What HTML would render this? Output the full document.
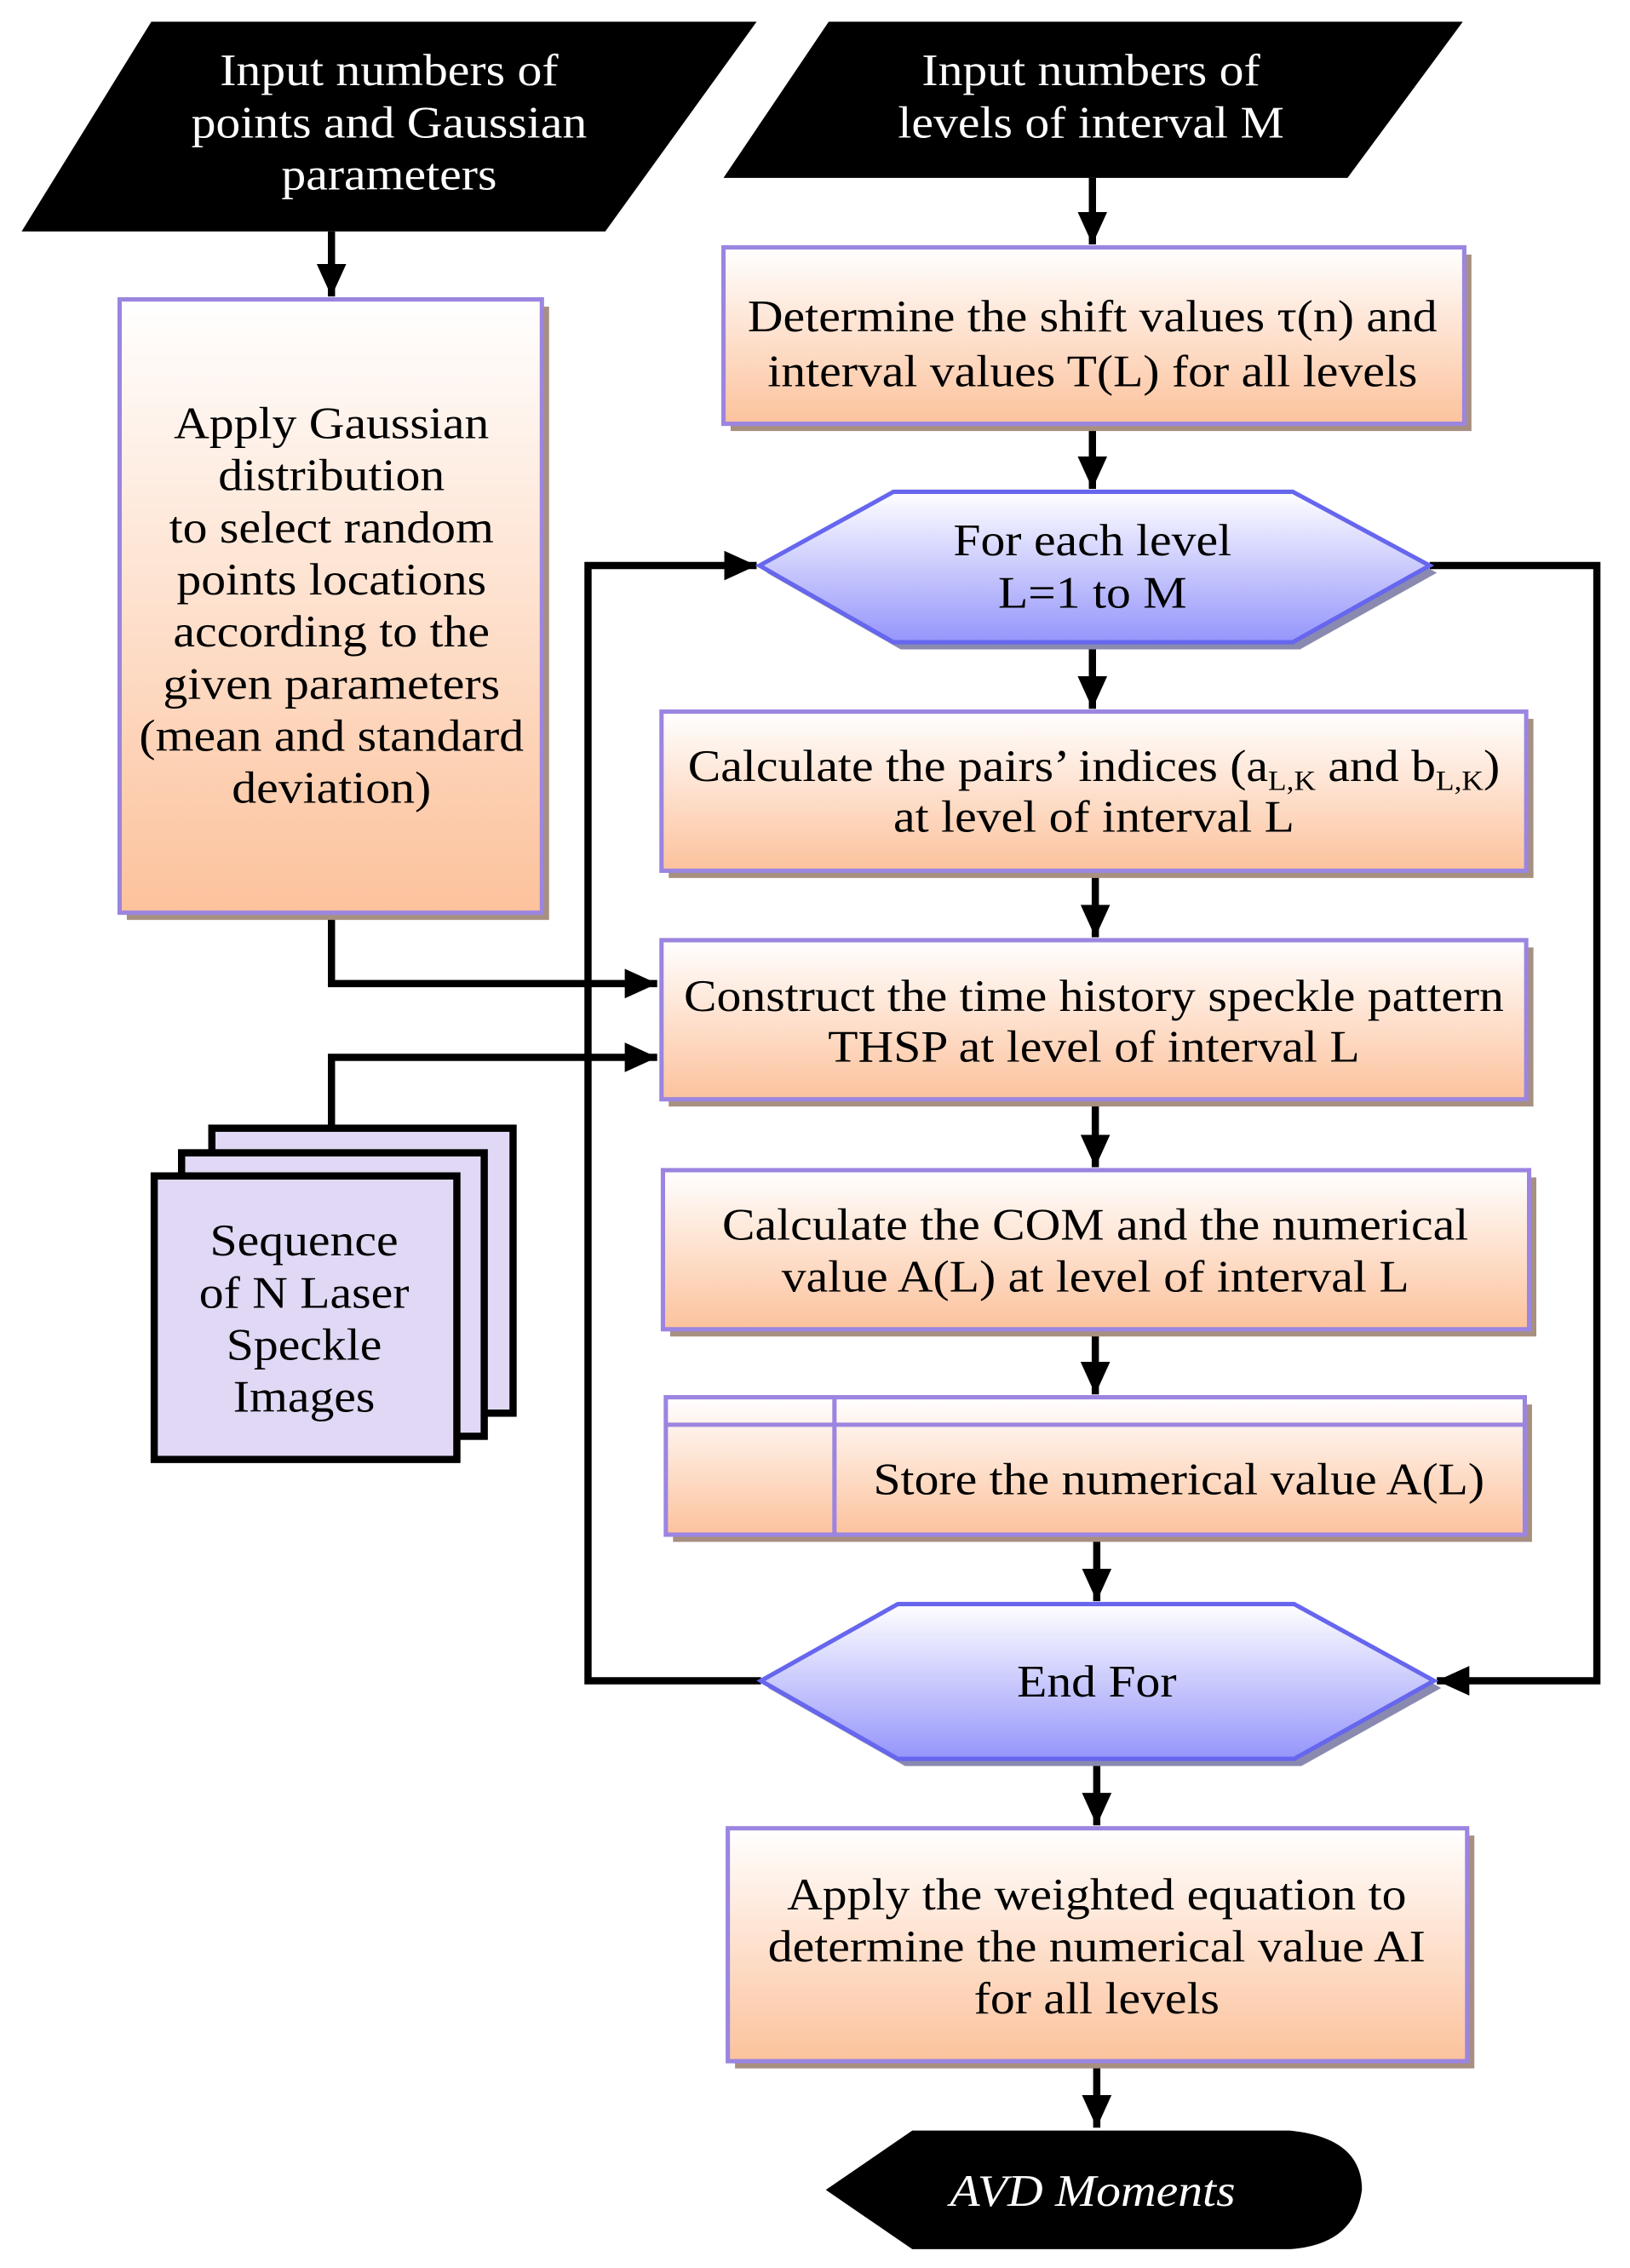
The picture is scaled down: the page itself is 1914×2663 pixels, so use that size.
<!DOCTYPE html>
<html><head><meta charset="utf-8"><style>html,body{margin:0;padding:0;background:#fff}svg{display:block}
svg text{transform-box:fill-box;transform-origin:center;transform:scaleX(1.1)}</style></head>
<body>
<svg width="1914" height="2663" viewBox="0 0 1131 1568" preserveAspectRatio="none" xmlns="http://www.w3.org/2000/svg" font-family="'Liberation Serif', serif">
<defs>
<linearGradient id="bx" x1="0" y1="0" x2="0" y2="1"><stop offset="0" stop-color="#ffffff"/><stop offset="1" stop-color="#fcc29c"/></linearGradient>
<linearGradient id="hx" x1="0" y1="0" x2="0" y2="1"><stop offset="0" stop-color="#ffffff"/><stop offset="1" stop-color="#9595fb"/></linearGradient>
<marker id="ar" markerWidth="4.5" markerHeight="4.5" refX="4.5" refY="2.25" orient="auto" markerUnits="strokeWidth"><path d="M0,0.2 L4.5,2.25 L0,4.3 z" fill="#000"/></marker>
</defs>
<g fill="none" stroke="#000" stroke-width="5">
<line x1="230" y1="160" x2="230" y2="205" marker-end="url(#ar)"/>
<line x1="758" y1="123" x2="758" y2="169" marker-end="url(#ar)"/>
<line x1="758" y1="295" x2="758" y2="338" marker-end="url(#ar)"/>
<line x1="758" y1="446" x2="758" y2="490" marker-end="url(#ar)"/>
<line x1="760" y1="604" x2="760" y2="648" marker-end="url(#ar)"/>
<line x1="760" y1="762" x2="760" y2="807" marker-end="url(#ar)"/>
<line x1="760" y1="921" x2="760" y2="964" marker-end="url(#ar)"/>
<line x1="761" y1="1063" x2="761" y2="1107" marker-end="url(#ar)"/>
<line x1="761" y1="1218" x2="761" y2="1262" marker-end="url(#ar)"/>
<line x1="761" y1="1427" x2="761" y2="1471" marker-end="url(#ar)"/>
<polyline points="992,391 1108,391 1108,1162 997,1162" marker-end="url(#ar)"/>
<polyline points="528,1162 408,1162 408,391 525,391" marker-end="url(#ar)"/>
<polyline points="230,633 230,680 456,680" marker-end="url(#ar)"/>
<polyline points="230,780 230,731 456,731" marker-end="url(#ar)"/>
</g>
<polygon points="15,160 105,15 525,15 420,160" fill="#000"/>
<polygon points="502,123 575,15 1015,15 935,123" fill="#000"/>
<g fill="#a89080">
<rect x="88" y="212" width="293" height="424"/>
<rect x="507" y="176" width="514" height="122"/>
<rect x="464" y="497" width="600" height="110"/>
<rect x="464" y="655" width="600" height="110"/>
<rect x="465" y="814" width="601" height="110"/>
<rect x="467" y="971" width="596" height="95"/>
<rect x="510" y="1269" width="513" height="161"/>
<polygon points="532,396 625,345 902,345 997,396 902,449 625,449" fill="#8a8ab0"/>
<polygon points="533,1167 628,1114 903,1114 1000,1167 903,1221 628,1221" fill="#8a8ab0"/>
</g>
<g fill="url(#bx)" stroke="#9b85e0" stroke-width="3">
<rect x="83" y="207" width="293" height="424"/>
<rect x="502" y="171" width="514" height="122"/>
<rect x="459" y="492" width="600" height="110"/>
<rect x="459" y="650" width="600" height="110"/>
<rect x="460" y="809" width="601" height="110"/>
<rect x="462" y="966" width="596" height="95"/>
<rect x="505" y="1264" width="513" height="161"/>
</g>
<g stroke="#9b85e0" stroke-width="3"><line x1="462" y1="985" x2="1058" y2="985"/><line x1="579" y1="966" x2="579" y2="1061"/></g>
<g fill="url(#hx)" stroke="#6666ee" stroke-width="3">
<polygon points="527,391 620,340 897,340 992,391 897,444 620,444"/>
<polygon points="528,1162 623,1109 898,1109 995,1162 898,1216 623,1216"/>
</g>
<path d="M573,1514 L633,1473 L895,1473 Q945,1478 945,1514 Q940,1552 895,1555 L633,1555 Z" fill="#000"/>
<g fill="#e0d8f4" stroke="#000" stroke-width="5">
<rect x="147" y="780" width="209" height="197"/>
<rect x="126" y="797" width="210" height="196"/>
<rect x="107" y="813" width="210" height="196"/>
</g>
<g font-size="31" text-anchor="middle" fill="#000">
<g fill="#fff"><text x="270" y="59">Input numbers of</text><text x="270" y="95">points and Gaussian</text><text x="270" y="131">parameters</text>
<text x="757" y="59">Input numbers of</text><text x="757" y="95">levels of interval M</text></g>
<text x="230" y="303">Apply Gaussian</text><text x="230" y="339">distribution</text><text x="230" y="375">to select  random</text><text x="230" y="411">points locations</text><text x="230" y="447">according to the</text><text x="230" y="483">given parameters</text><text x="230" y="519">(mean and standard</text><text x="230" y="555">deviation)</text>
<text x="758" y="229">Determine the shift values τ(n) and</text><text x="758" y="267">interval values T(L) for all levels</text>
<text x="758" y="384">For each level</text><text x="758" y="420">L=1 to M</text>
<text x="759" y="540">Calculate the pairs’ indices (a<tspan font-size="19" dy="6">L,K</tspan><tspan dy="-6"> and b</tspan><tspan font-size="19" dy="6">L,K</tspan><tspan dy="-6">)</tspan></text><text x="759" y="575">at level of interval L</text>
<text x="759" y="699">Construct the time history speckle pattern</text><text x="759" y="734">THSP at level of interval L</text>
<text x="760" y="857">Calculate the COM and the numerical</text><text x="760" y="893">value A(L) at level of interval L</text>
<text x="818" y="1033">Store the numerical value A(L)</text>
<text x="761" y="1173">End For</text>
<text x="761" y="1320">Apply the weighted equation to</text><text x="761" y="1356">determine the numerical value AI</text><text x="761" y="1392">for all levels</text>
<text x="758" y="1525" fill="#fff" font-style="italic">AVD Moments</text>
<text x="211" y="868">Sequence</text><text x="211" y="904">of N Laser</text><text x="211" y="940">Speckle</text><text x="211" y="976">Images</text>
</g>
</svg>
</body></html>
